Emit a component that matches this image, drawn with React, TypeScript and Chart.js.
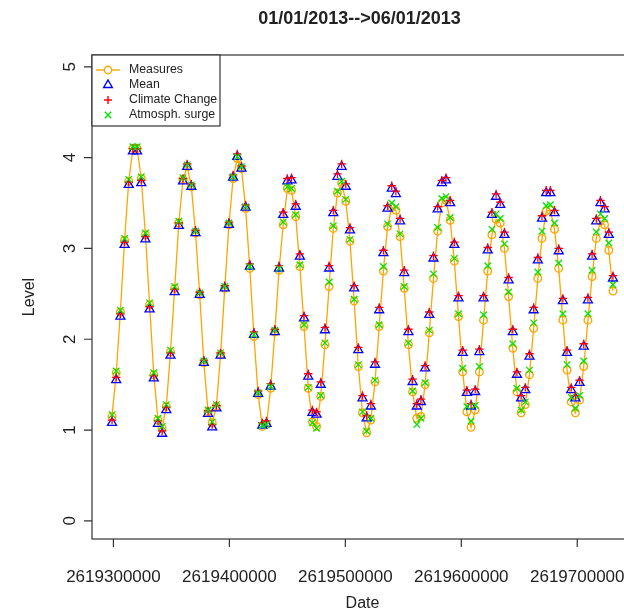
import { useEffect, useRef } from "react";
import { Chart, registerables } from "chart.js";

Chart.register(...registerables);

const TITLE = "01/01/2013-->06/01/2013";
const X_TITLE = "Date";
const Y_TITLE = "Level";
const START_TIME = 2619298800;
const STEP_SECONDS = 3600;
const X_TICKS = [2619300000, 2619400000, 2619500000, 2619600000, 2619700000];
const Y_TICKS = [0, 1, 2, 3, 4, 5];
const LEGEND_LABELS = ["Measures", "Mean", "Climate Change", "Atmosph. surge"];

const measures = [
  1.15, 1.63, 2.30, 3.09, 3.74, 4.10, 4.10, 3.77, 3.15, 2.38,
  1.61, 1.11, 1.02, 1.26, 1.86, 2.56, 3.28, 3.76, 3.90, 3.68,
  3.17, 2.49, 1.74, 1.20, 1.08, 1.26, 1.83, 2.56, 3.26, 3.77,
  3.99, 3.88, 3.44, 2.78, 2.03, 1.39, 1.04, 1.06, 1.46, 2.08,
  2.76, 3.26, 3.66, 3.64, 3.35, 2.80, 2.14, 1.46, 1.09, 1.04,
  1.37, 1.94, 2.58, 3.22, 3.61, 3.72, 3.52, 3.08, 2.42, 1.70,
  1.19, 0.97, 1.11, 1.53, 2.14, 2.75, 3.24, 3.45, 3.42, 3.13,
  2.56, 1.94, 1.42, 1.13, 1.15, 1.50, 2.07, 2.67, 3.19, 3.50,
  3.53, 3.31, 2.86, 2.25, 1.64, 1.20, 1.03, 1.22, 1.64, 2.21,
  2.75, 3.15, 3.32, 3.28, 3.00, 2.47, 1.90, 1.42, 1.19, 1.28,
  1.61, 2.12, 2.67, 3.11, 3.41, 3.42, 3.21, 2.78, 2.21, 1.66,
  1.31, 1.19, 1.33, 1.70, 2.21, 2.69, 3.11, 3.30, 3.26, 2.98,
  2.53,
];

const mean = [
  1.08, 1.55, 2.25, 3.04, 3.70, 4.07, 4.07, 3.72, 3.10, 2.33,
  1.57, 1.07, 0.96, 1.22, 1.82, 2.52, 3.25, 3.74, 3.90, 3.68,
  3.17, 2.49, 1.74, 1.18, 1.03, 1.24, 1.82, 2.56, 3.26, 3.78,
  4.01, 3.88, 3.45, 2.80, 2.05, 1.40, 1.05, 1.07, 1.48, 2.08,
  2.78, 3.37, 3.74, 3.75, 3.46, 2.91, 2.23, 1.59, 1.19, 1.17,
  1.50, 2.10, 2.78, 3.39, 3.79, 3.90, 3.68, 3.20, 2.56, 1.88,
  1.35, 1.13, 1.26, 1.72, 2.32, 2.95, 3.44, 3.66, 3.60, 3.30,
  2.73, 2.08, 1.53, 1.26, 1.31, 1.68, 2.27, 2.89, 3.43, 3.72,
  3.75, 3.50, 3.04, 2.45, 1.85, 1.41, 1.26, 1.42, 1.86, 2.45,
  2.98, 3.37, 3.57, 3.48, 3.15, 2.65, 2.08, 1.61, 1.35, 1.44,
  1.81, 2.32, 2.87, 3.33, 3.61, 3.61, 3.39, 2.97, 2.42, 1.85,
  1.44, 1.35, 1.52, 1.92, 2.43, 2.91, 3.30, 3.50, 3.43, 3.15,
  2.67,
];

const climateChange = [
  1.11, 1.58, 2.28, 3.07, 3.73, 4.10, 4.10, 3.75, 3.13, 2.36,
  1.60, 1.10, 0.99, 1.25, 1.85, 2.55, 3.28, 3.77, 3.93, 3.71,
  3.20, 2.52, 1.77, 1.21, 1.06, 1.27, 1.85, 2.59, 3.29, 3.81,
  4.04, 3.91, 3.48, 2.83, 2.08, 1.43, 1.08, 1.10, 1.51, 2.11,
  2.81, 3.40, 3.77, 3.78, 3.49, 2.94, 2.26, 1.62, 1.22, 1.20,
  1.53, 2.13, 2.81, 3.42, 3.82, 3.93, 3.71, 3.23, 2.59, 1.91,
  1.38, 1.16, 1.29, 1.75, 2.35, 2.98, 3.47, 3.69, 3.63, 3.33,
  2.76, 2.11, 1.56, 1.29, 1.34, 1.71, 2.30, 2.92, 3.46, 3.75,
  3.78, 3.53, 3.07, 2.48, 1.88, 1.44, 1.29, 1.45, 1.89, 2.48,
  3.01, 3.40, 3.60, 3.51, 3.18, 2.68, 2.11, 1.64, 1.38, 1.47,
  1.84, 2.35, 2.90, 3.36, 3.64, 3.64, 3.42, 3.00, 2.45, 1.88,
  1.47, 1.38, 1.55, 1.95, 2.46, 2.94, 3.33, 3.53, 3.46, 3.18,
  2.70,
];

const atmosphSurge = [
  1.17, 1.65, 2.32, 3.11, 3.76, 4.12, 4.12, 3.79, 3.17, 2.40,
  1.63, 1.13, 1.04, 1.28, 1.88, 2.58, 3.30, 3.78, 3.92, 3.70,
  3.19, 2.51, 1.76, 1.22, 1.09, 1.28, 1.85, 2.58, 3.28, 3.79,
  4.01, 3.90, 3.46, 2.80, 2.05, 1.41, 1.05, 1.06, 1.48, 2.10,
  2.78, 3.29, 3.68, 3.66, 3.37, 2.82, 2.16, 1.47, 1.08, 1.02,
  1.38, 1.96, 2.63, 3.25, 3.63, 3.74, 3.54, 3.10, 2.44, 1.72,
  1.20, 0.99, 1.13, 1.55, 2.16, 2.80, 3.27, 3.50, 3.46, 3.16,
  2.58, 1.96, 1.43, 1.06, 1.13, 1.52, 2.10, 2.72, 3.23, 3.55,
  3.57, 3.34, 2.89, 2.28, 1.68, 1.26, 1.10, 1.27, 1.70, 2.27,
  2.81, 3.21, 3.38, 3.33, 3.05, 2.52, 1.95, 1.46, 1.22, 1.31,
  1.66, 2.18, 2.74, 3.19, 3.47, 3.48, 3.28, 2.84, 2.28, 1.72,
  1.36, 1.24, 1.38, 1.76, 2.28, 2.76, 3.18, 3.38, 3.33, 3.06,
  2.60,
];

const ORANGE = "#FFA500";
const BLUE = "#0000FF";
const RED = "#FF0000";
const GREEN = "#00E600";
const FONT = "'Liberation Sans', Arial, Helvetica, sans-serif";

const CANVAS_W = 660;
const CANVAS_H = 614;
const AREA = { left: 92, top: 55, right: 633, bottom: 539 };

const times = measures.map((_, i) => START_TIME + i * STEP_SECONDS);
const xSpan = times[times.length - 1] - times[0];
const X_MIN = times[0] - 0.04 * xSpan;
const X_MAX = times[times.length - 1] + 0.04 * xSpan;
const Y_MIN = -0.2;
const Y_MAX = 5.13;

const toPoints = (vals: number[]) => vals.map((v, i) => ({ x: times[i], y: v }));

const rPlotPlugin = {
  id: "rPlot",
  afterDraw(chart: any) {
    const { ctx, scales } = chart;
    const xs = scales.x;
    const ys = scales.y;
    const { left, top, right, bottom } = chart.chartArea;
    ctx.save();
    ctx.strokeStyle = "#333";
    ctx.fillStyle = "#222";
    ctx.lineWidth = 1.2;
    ctx.strokeRect(left, top, right - left, bottom - top);
    ctx.beginPath();
    X_TICKS.forEach((t) => {
      const px = xs.getPixelForValue(t);
      ctx.moveTo(px, bottom);
      ctx.lineTo(px, bottom + 8);
    });
    Y_TICKS.forEach((t) => {
      const py = ys.getPixelForValue(t);
      ctx.moveTo(left, py);
      ctx.lineTo(left - 8, py);
    });
    ctx.stroke();
    ctx.font = `17px ${FONT}`;
    ctx.textAlign = "center";
    ctx.textBaseline = "middle";
    X_TICKS.forEach((t) => {
      ctx.fillText(String(t), xs.getPixelForValue(t), 577);
    });
    Y_TICKS.forEach((t) => {
      const py = ys.getPixelForValue(t);
      ctx.save();
      ctx.translate(70, py);
      ctx.rotate(-Math.PI / 2);
      ctx.fillText(String(t), 0, 0);
      ctx.restore();
    });
    ctx.font = `16px ${FONT}`;
    const cx = (left + right) / 2;
    ctx.fillText(X_TITLE, cx, 604);
    ctx.save();
    ctx.translate(30, (top + bottom) / 2);
    ctx.rotate(-Math.PI / 2);
    ctx.fillText(Y_TITLE, 0, 0);
    ctx.restore();
    ctx.font = `bold 18px ${FONT}`;
    ctx.fillText(TITLE, cx - 3, 19);

    const lx = left, ly = top, lw = 128, lh = 71;
    ctx.fillStyle = "#fff";
    ctx.fillRect(lx, ly, lw, lh);
    ctx.strokeStyle = "#333";
    ctx.strokeRect(lx, ly, lw, lh);
    const rowY = [70, 85, 100, 115];
    const sx = 108;
    ctx.lineWidth = 1.4;
    ctx.strokeStyle = ORANGE;
    ctx.beginPath();
    ctx.moveTo(96, rowY[0]);
    ctx.lineTo(120, rowY[0]);
    ctx.stroke();
    ctx.beginPath();
    ctx.arc(sx, rowY[0], 3.7, 0, Math.PI * 2);
    ctx.fillStyle = "#fff";
    ctx.fill();
    ctx.stroke();
    ctx.strokeStyle = BLUE;
    ctx.beginPath();
    const r = 5;
    ctx.moveTo(sx, rowY[1] - r);
    ctx.lineTo(sx + r * Math.sin((2 * Math.PI) / 3), rowY[1] + r / 2);
    ctx.lineTo(sx - r * Math.sin((2 * Math.PI) / 3), rowY[1] + r / 2);
    ctx.closePath();
    ctx.stroke();
    ctx.strokeStyle = RED;
    ctx.beginPath();
    ctx.moveTo(sx - 4, rowY[2]);
    ctx.lineTo(sx + 4, rowY[2]);
    ctx.moveTo(sx, rowY[2] - 4);
    ctx.lineTo(sx, rowY[2] + 4);
    ctx.stroke();
    ctx.strokeStyle = GREEN;
    ctx.beginPath();
    ctx.moveTo(sx - 3.2, rowY[3] - 3.2);
    ctx.lineTo(sx + 3.2, rowY[3] + 3.2);
    ctx.moveTo(sx + 3.2, rowY[3] - 3.2);
    ctx.lineTo(sx - 3.2, rowY[3] + 3.2);
    ctx.stroke();
    ctx.fillStyle = "#222";
    ctx.font = `12.3px ${FONT}`;
    ctx.textAlign = "left";
    LEGEND_LABELS.forEach((lab, i) => ctx.fillText(lab, 129, rowY[i]));
    ctx.restore();
  },
};

export default function App() {
  const ref = useRef<HTMLCanvasElement | null>(null);
  useEffect(() => {
    if (!ref.current) return;
    const chart = new Chart(ref.current, {
      type: "line",
      data: {
        datasets: [
          {
            label: LEGEND_LABELS[0],
            data: toPoints(measures),
            borderColor: ORANGE,
            backgroundColor: "rgba(0,0,0,0)",
            borderWidth: 1.3,
            pointStyle: "circle",
            pointRadius: 3.8,
            pointBorderWidth: 1.4,
            pointBorderColor: ORANGE,
            pointBackgroundColor: "rgba(0,0,0,0)",
            tension: 0,
            order: 4,
          },
          {
            label: LEGEND_LABELS[1],
            data: toPoints(mean),
            showLine: false,
            borderColor: BLUE,
            backgroundColor: "rgba(0,0,0,0)",
            pointStyle: "triangle",
            pointRadius: 5.2,
            pointBorderWidth: 1.3,
            pointBorderColor: BLUE,
            pointBackgroundColor: "rgba(0,0,0,0)",
            order: 3,
          },
          {
            label: LEGEND_LABELS[2],
            data: toPoints(climateChange),
            showLine: false,
            borderColor: RED,
            backgroundColor: "rgba(0,0,0,0)",
            pointStyle: "cross",
            pointRadius: 4.2,
            pointBorderWidth: 1.3,
            pointBorderColor: RED,
            order: 2,
          },
          {
            label: LEGEND_LABELS[3],
            data: toPoints(atmosphSurge),
            showLine: false,
            borderColor: GREEN,
            backgroundColor: "rgba(0,0,0,0)",
            pointStyle: "crossRot",
            pointRadius: 4.6,
            pointBorderWidth: 1.3,
            pointBorderColor: GREEN,
            order: 1,
          },
        ],
      },
      options: {
        animation: false,
        responsive: false,
        devicePixelRatio: 1,
        layout: {
          padding: {
            left: AREA.left,
            top: AREA.top,
            right: CANVAS_W - AREA.right,
            bottom: CANVAS_H - AREA.bottom,
          },
        },
        plugins: { legend: { display: false }, tooltip: { enabled: false }, title: { display: false } },
        scales: {
          x: { type: "linear", min: X_MIN, max: X_MAX, display: false },
          y: { type: "linear", min: Y_MIN, max: Y_MAX, display: false },
        },
      },
      plugins: [rPlotPlugin],
    });
    return () => chart.destroy();
  }, []);
  return (
    <div style={{ position: "fixed", left: 0, top: 0, width: 624, height: 614, overflow: "hidden", background: "#fff" }}>
      <canvas ref={ref} width={CANVAS_W} height={CANVAS_H} style={{ width: CANVAS_W, height: CANVAS_H, display: "block" }} />
    </div>
  );
}
